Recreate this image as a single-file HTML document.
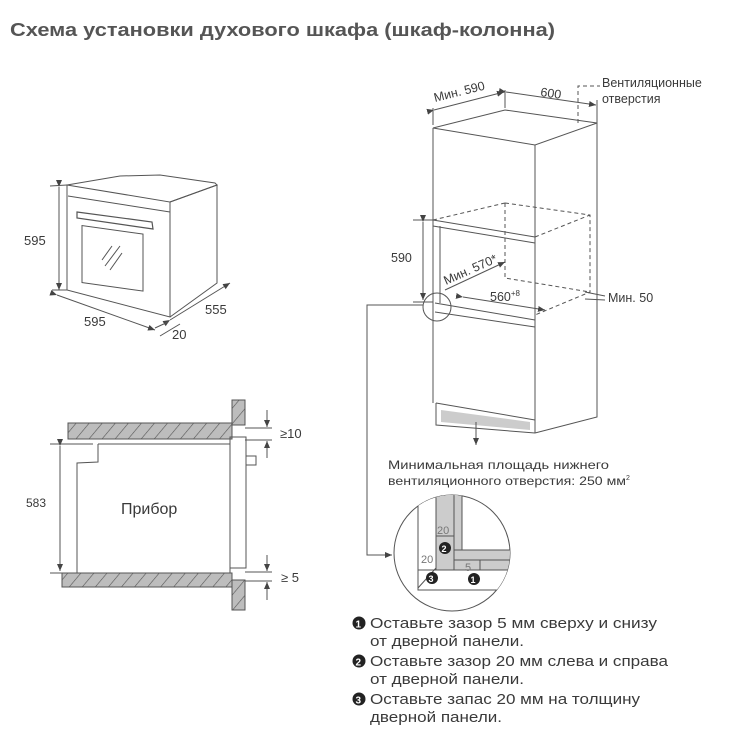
<!DOCTYPE html>
<html><head><meta charset="utf-8"><style>
html,body{margin:0;padding:0;background:#fff;width:741px;height:750px;overflow:hidden}
svg{display:block}
text{font-family:"Liberation Sans","DejaVu Sans",sans-serif;fill:#3a3a3a}
</style></head><body>
<svg width="741" height="750" viewBox="0 0 741 750" xmlns="http://www.w3.org/2000/svg">
<defs>
<pattern id="h" patternUnits="userSpaceOnUse" width="10" height="10" patternTransform="rotate(40)">
<rect width="10" height="10" fill="#bdbdbd"/><line x1="0" y1="0" x2="0" y2="10" stroke="#555" stroke-width="1.2"/></pattern>
<marker id="a" markerWidth="8" markerHeight="8" refX="7" refY="4" orient="auto" markerUnits="userSpaceOnUse"><path d="M0,1 L7,4 L0,7 z" fill="#444"/></marker>
<clipPath id="cc"><circle cx="452" cy="553" r="58"/></clipPath>
</defs>
<text x="10" y="36" font-size="18" font-weight="bold" style="fill:#555" textLength="545" lengthAdjust="spacingAndGlyphs">Схема установки духового шкафа (шкаф-колонна)</text>

<!-- oven iso -->
<g fill="none" stroke="#555" stroke-width="1">
<path d="M67,185 L170,202 L170,317 L67,290 Z" fill="#fff"/>
<path d="M67,185 L120,176 L160,175 L215,183 L217,185 L170,202"/>
<path d="M170,202 L217,185 L217,283 L170,317"/>
<path d="M68,196 L170,212"/>
<rect x="82" y="230" width="61" height="57" transform="skewY(8) translate(0,-16)" />
<path d="M77,212 L152,222 L153,229 L77,218 Z" stroke-width="1.2"/>
<path d="M102,260 L112,246 M105,266 L120,246 M110,270 L122,253"/>
<path d="M59,187 L59,290" marker-start="url(#a)" marker-end="url(#a)"/>
<path d="M50,186 L67,185 M52,290 L67,290"/>
<path d="M57,295 L155,330" marker-start="url(#a)" marker-end="url(#a)"/>
<path d="M170,320 L230,283" marker-start="url(#a)" marker-end="url(#a)"/>
<path d="M155,328 L168,322 M160,336 L180,324"/>
</g>
<text x="24" y="245" font-size="13">595</text>
<text x="84" y="326" font-size="13">595</text>
<text x="205" y="314" font-size="13">555</text>
<text x="172" y="339" font-size="13">20</text>

<!-- section -->
<g stroke="#555" stroke-width="1">
<rect x="68" y="423" width="164" height="16" fill="url(#h)"/>
<rect x="62" y="573" width="170" height="14" fill="url(#h)"/>
<rect x="232" y="400" width="13" height="25" fill="url(#h)"/>
<rect x="232" y="580" width="13" height="30" fill="url(#h)"/>
<path d="M98,444 L230,444 M98,444 L98,462 L77,463 L77,573" fill="none"/>
<path d="M230,437 L246,437 L246,568 L230,568 Z M230,437 L230,573" fill="none"/>
<rect x="246" y="456" width="10" height="9" fill="none"/>
<path d="M50,444 L93,444 M50,573 L75,573" fill="none"/>
<path d="M60,446 L60,571" marker-start="url(#a)" marker-end="url(#a)"/>
<path d="M245,428 L272,428 M245,440 L272,440 M245,572 L272,572 M245,581 L272,581" fill="none"/>
<path d="M267,410 L267,427" marker-end="url(#a)"/>
<path d="M267,458 L267,441" marker-end="url(#a)"/>
<path d="M267,555 L267,571" marker-end="url(#a)"/>
<path d="M267,600 L267,582" marker-end="url(#a)"/>
</g>
<text x="280" y="438" font-size="13">≥10</text>
<text x="281" y="582" font-size="13">≥ 5</text>
<text x="26" y="507" font-size="12">583</text>
<text x="121" y="514" font-size="16">Прибор</text>

<!-- cabinet -->
<g fill="none" stroke="#555" stroke-width="1">
<path d="M433,128 L535,145 L597,123 L505,110 Z" fill="#fff"/>
<path d="M433,128 L433,403 M535,145 L535,433 M597,123 L597,417 L535,433"/>
<path d="M433,220 L535,237 M433,226 L535,243"/>
<path d="M435,303 L535,320 M435,312 L535,327"/>
<path d="M440,226 L440,303"/>
<path d="M436,403 L535,420 M436,403 L436,425 L535,433"/>
<path d="M441,410 L530,422 L530,430 L441,422 Z" fill="#ccc" stroke="none"/>
<path d="M505,203 L590,215 L590,292 L535,315 M505,203 L505,278 L590,292 M505,203 L433,220 M535,237 L590,215" stroke-dasharray="4,3"/>
<path d="M433,108 L433,125 M597,100 L597,123"/>
<path d="M434,110 L504,92" marker-start="url(#a)" marker-end="url(#a)"/>
<path d="M506,92 L596,105" marker-start="url(#a)" marker-end="url(#a)"/>
<path d="M505,90 L505,108"/>
<path d="M578,123 L578,86 L600,86" stroke-dasharray="4,3"/>
<path d="M413,220 L433,220 M413,302 L433,302"/>
<path d="M423,222 L423,300" marker-start="url(#a)" marker-end="url(#a)"/>
<path d="M445,290 L505,262" marker-end="url(#a)"/>
<path d="M463,297 L545,310" marker-start="url(#a)" marker-end="url(#a)"/>
<path d="M585,292 L605,296 M585,299 L605,300"/>
<circle cx="437" cy="307" r="14"/>
<path d="M423,305 L367,305 L367,555 L392,555" marker-end="url(#a)"/>
<path d="M476,422 L476,445" marker-end="url(#a)"/>
</g>
<text x="602" y="87" font-size="12.5">Вентиляционные</text>
<text x="602" y="103" font-size="12.5">отверстия</text>
<text x="435" y="102" font-size="12.5" transform="rotate(-14 435 102)">Мин. 590</text>
<text x="540" y="96" font-size="12.5" transform="rotate(8 540 96)">600</text>
<text x="391" y="262" font-size="12.5">590</text>
<text x="446" y="285" font-size="12.5" transform="rotate(-24 446 285)">Мин. 570*</text>
<text x="490" y="301" font-size="12.5">560<tspan font-size="8" dy="-5">+8</tspan></text>
<text x="608" y="302" font-size="12.5">Мин. 50</text>
<text x="388" y="469" font-size="12" textLength="221" lengthAdjust="spacingAndGlyphs">Минимальная площадь нижнего</text>
<text x="388" y="485" font-size="12"><tspan textLength="238" lengthAdjust="spacingAndGlyphs">вентиляционного отверстия: 250 мм</tspan><tspan font-size="7" dy="-5">2</tspan></text>

<!-- detail circle -->
<circle cx="452" cy="553" r="58" fill="#fff" stroke="#555"/>
<g clip-path="url(#cc)" stroke="#555" stroke-width="1">
<rect x="418" y="490" width="40" height="100" fill="#fff"/>
<rect x="436" y="490" width="18" height="90" fill="#ccc"/>
<rect x="454" y="490" width="8" height="60" fill="#ccc"/>
<path d="M454,550 L520,550 L520,560 L454,560 Z" fill="#ccc"/>
<path d="M454,560 L520,560 L520,570 L454,570 Z" fill="#ccc"/>
<path d="M418,570 L520,570 L520,590 L418,590 Z" fill="#fff"/>
<path d="M418,490 L418,590 M418,588 L436,568 M436,536 L454,536 M480,560 L480,570" fill="none"/>
</g>
<text x="437" y="534" font-size="11" style="fill:#777">20</text>
<text x="421" y="563" font-size="11" style="fill:#777">20</text>
<text x="465" y="571" font-size="11" style="fill:#777">5</text>
<circle cx="445" cy="548" r="6" fill="#222"/><text x="441.5" y="552" font-size="9" font-weight="bold" style="fill:#fff">2</text>
<circle cx="432" cy="578" r="6" fill="#222"/><text x="428.5" y="582" font-size="9" font-weight="bold" style="fill:#fff">3</text>
<circle cx="474" cy="579" r="6" fill="#222"/><text x="470.5" y="583" font-size="9" font-weight="bold" style="fill:#fff">1</text>

<!-- notes -->
<g font-size="15">
<circle cx="359" cy="623" r="6.5" fill="#222"/><text x="355.5" y="627.5" font-size="10" font-weight="bold" style="fill:#fff">1</text>
<text x="370" y="628" textLength="287" lengthAdjust="spacingAndGlyphs">Оставьте зазор 5 мм сверху и снизу</text>
<text x="370" y="646" textLength="154" lengthAdjust="spacingAndGlyphs">от дверной панели.</text>
<circle cx="359" cy="661" r="6.5" fill="#222"/><text x="355.5" y="665.5" font-size="10" font-weight="bold" style="fill:#fff">2</text>
<text x="370" y="666" textLength="298" lengthAdjust="spacingAndGlyphs">Оставьте зазор 20 мм слева и справа</text>
<text x="370" y="684" textLength="154" lengthAdjust="spacingAndGlyphs">от дверной панели.</text>
<circle cx="359" cy="699" r="6.5" fill="#222"/><text x="355.5" y="703.5" font-size="10" font-weight="bold" style="fill:#fff">3</text>
<text x="370" y="704" textLength="270" lengthAdjust="spacingAndGlyphs">Оставьте запас 20 мм на толщину</text>
<text x="370" y="722" textLength="132" lengthAdjust="spacingAndGlyphs">дверной панели.</text>
</g>
</svg>
</body></html>
